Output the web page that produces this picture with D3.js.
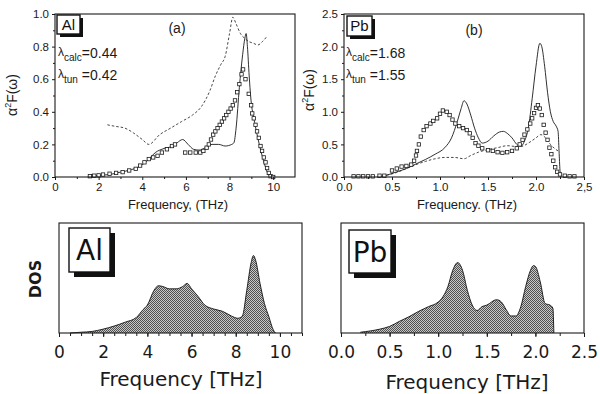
<!DOCTYPE html>
<html>
<head>
<meta charset="utf-8">
<script src="https://cdn.jsdelivr.net/npm/d3@7"></script>
<style>
  body { margin: 0; background: #fff; }
  svg { display: block; }
</style>
</head>
<body>
<svg id="chart" width="600" height="394"></svg>
<script>
// ---- panel (a): Al, alpha^2 F ----
const alCalcF = [1.5, 2, 2.5, 3, 3.5, 4, 4.3, 4.6, 5.0, 5.4,
  5.6, 5.85, 6.1, 6.35, 6.6, 6.9, 7.2, 7.5, 7.8, 8.1,
  8.2, 8.3, 8.45, 8.6, 8.7, 8.76, 8.82, 8.9, 9.0, 9.1,
  9.2, 9.4, 9.6, 9.8, 9.9];
const alCalcV = [0, 0.01, 0.015, 0.03, 0.045, 0.075, 0.11, 0.15, 0.175, 0.19,
  0.21, 0.23, 0.2, 0.17, 0.165, 0.18, 0.2, 0.2, 0.19, 0.2,
  0.21, 0.3, 0.55, 0.75, 0.85, 0.88, 0.8, 0.62, 0.45, 0.37,
  0.3, 0.18, 0.08, 0.01, 0];

const alTunF = [1.6, 1.8, 2.0, 2.2, 2.5, 2.8, 3.1, 3.4, 3.7, 3.9,
  4.1, 4.3, 4.5, 4.7, 4.9, 5.13, 5.36, 5.5, 5.97, 6.2,
  6.45, 6.66, 6.8, 6.95, 7.05, 7.15, 7.25, 7.35, 7.45, 7.55,
  7.65, 7.75, 7.85, 7.95, 8.05, 8.15, 8.25, 8.35, 8.45, 8.55,
  8.62, 8.73, 8.88, 8.99, 9.04, 9.11, 9.19, 9.26, 9.34, 9.42,
  9.49, 9.57, 9.65, 9.72, 9.8, 9.88, 10.0];
const alTunV = [0.005, 0.008, 0.01, 0.015, 0.02, 0.025, 0.03, 0.04, 0.05, 0.07,
  0.09, 0.11, 0.12, 0.13, 0.15, 0.17, 0.19, 0.2, 0.15, 0.15,
  0.15, 0.15, 0.16, 0.18, 0.2, 0.23, 0.26, 0.28, 0.3, 0.32,
  0.34, 0.36, 0.38, 0.4, 0.42, 0.44, 0.47, 0.52, 0.57, 0.63,
  0.66, 0.6, 0.51, 0.44, 0.39, 0.36, 0.32, 0.28, 0.24, 0.19,
  0.16, 0.12, 0.09, 0.055, 0.025, 0.005, 0];

const alDashF = [2.4, 2.8, 3.2, 3.6, 4.0, 4.3, 4.8, 5.3, 5.8, 6.3,
  6.7, 7.1, 7.35, 7.6, 7.8, 8.0, 8.15, 8.3, 8.5, 8.7,
  8.9, 9.1, 9.3, 9.5, 9.7];
const alDashV = [0.32, 0.31, 0.3, 0.27, 0.23, 0.2, 0.26, 0.3, 0.34, 0.38,
  0.43, 0.53, 0.62, 0.69, 0.74, 0.88, 0.98, 0.94, 0.88, 0.85,
  0.83, 0.82, 0.81, 0.83, 0.86];

// ---- panel (b): Pb, alpha^2 F ----
const pbCalcF = [0.35, 0.45, 0.55, 0.65, 0.75, 0.85, 0.95, 1.05, 1.12, 1.18,
  1.22, 1.25, 1.28, 1.32, 1.36, 1.4, 1.44, 1.5, 1.56, 1.62,
  1.66, 1.7, 1.75, 1.8, 1.84, 1.88, 1.92, 1.96, 2.0, 2.04,
  2.06, 2.09, 2.12, 2.15, 2.18, 2.21, 2.23, 2.24, 2.25, 2.26];
const pbCalcV = [0, 0.03, 0.08, 0.13, 0.2, 0.27, 0.35, 0.45, 0.6, 0.85,
  1.05, 1.17, 1.12, 0.95, 0.75, 0.6, 0.52, 0.55, 0.63, 0.69,
  0.7, 0.67, 0.6, 0.5, 0.47, 0.55, 0.75, 1.2, 1.7, 2.05,
  2.0, 1.7, 1.3, 1.0, 0.85, 0.78, 0.7, 0.4, 0.1, 0];

const pbTunF = [0.1, 0.15, 0.2, 0.25, 0.3, 0.37, 0.42, 0.5, 0.55, 0.6,
  0.65, 0.7, 0.73, 0.75, 0.76, 0.78, 0.8, 0.83, 0.86, 0.9,
  0.93, 0.97, 1.0, 1.03, 1.07, 1.1, 1.13, 1.16, 1.2, 1.24,
  1.28, 1.31, 1.34, 1.37, 1.4, 1.44, 1.5, 1.55, 1.6, 1.65,
  1.7, 1.75, 1.8, 1.83, 1.86, 1.88, 1.91, 1.94, 1.96, 1.98,
  2.0, 2.02, 2.04, 2.06, 2.08, 2.1, 2.12, 2.14, 2.16, 2.18,
  2.2, 2.22, 2.25, 2.3, 2.35, 2.4];
const pbTunV = [0.01, 0.01, 0.01, 0.01, 0.01, 0.02, 0.02, 0.1, 0.13, 0.16,
  0.17, 0.19, 0.25, 0.33, 0.4, 0.5, 0.62, 0.72, 0.78, 0.82,
  0.86, 0.9, 0.97, 1.02, 1.0, 0.95, 0.88, 0.82, 0.78, 0.75,
  0.72, 0.67, 0.6, 0.52, 0.48, 0.44, 0.41, 0.4, 0.38, 0.37,
  0.38, 0.4, 0.44, 0.5, 0.57, 0.65, 0.73, 0.82, 0.9, 0.98,
  1.06, 1.1, 1.05, 0.95, 0.8, 0.68, 0.57, 0.45, 0.35, 0.25,
  0.15, 0.08, 0.04, 0.02, 0.01, 0.01];

const pbDashF = [0.35, 0.45, 0.55, 0.65, 0.75, 0.85, 0.95, 1.05, 1.15, 1.25,
  1.32, 1.4, 1.5, 1.6, 1.7, 1.78, 1.85, 1.92, 2.0, 2.05,
  2.1, 2.15, 2.2, 2.23];
const pbDashV = [0, 0.03, 0.07, 0.13, 0.19, 0.24, 0.28, 0.3, 0.3, 0.28,
  0.33, 0.38, 0.42, 0.45, 0.48, 0.47, 0.47, 0.52, 0.6, 0.65,
  0.6, 0.5, 0.43, 0.4];

// ---- phonon DOS (arbitrary units) ----
const alDosF = [0.5, 1.0, 1.5, 2.0, 2.5, 3.0, 3.5, 3.8, 4.0, 4.3,
  4.5, 4.7, 5.0, 5.3, 5.6, 5.8, 6.0, 6.3, 6.6, 7.0,
  7.4, 7.8, 8.1, 8.3, 8.5, 8.7, 8.8, 8.9, 9.1, 9.3,
  9.5, 9.7, 9.8];
const alDosV = [0, 0.01, 0.02, 0.05, 0.09, 0.14, 0.2, 0.3, 0.36, 0.55,
  0.61, 0.6, 0.57, 0.57, 0.6, 0.64, 0.57, 0.47, 0.36, 0.31,
  0.28, 0.22, 0.19, 0.22, 0.55, 0.91, 1.0, 0.94, 0.64, 0.38,
  0.21, 0.04, 0];

const pbDosF = [0.2, 0.4, 0.5, 0.6, 0.7, 0.8, 0.9, 1.0, 1.05, 1.1,
  1.15, 1.2, 1.25, 1.3, 1.35, 1.4, 1.45, 1.5, 1.6, 1.65,
  1.7, 1.75, 1.8, 1.85, 1.9, 1.95, 1.98, 2.0, 2.05, 2.1,
  2.15, 2.18, 2.19];
const pbDosV = [0.01, 0.05, 0.085, 0.15, 0.21, 0.28, 0.34, 0.4, 0.47, 0.6,
  0.81, 0.91, 0.81, 0.55, 0.36, 0.29, 0.34, 0.36, 0.43, 0.4,
  0.3, 0.22, 0.22, 0.34, 0.6, 0.81, 0.87, 0.86, 0.66, 0.38,
  0.36, 0.32, 0];

// ---- tick labels ----
const alTopXTicks = [0, 2, 4, 6, 8, 10];
const alTopXLabels = ['0', '2', '4', '6', '8', '10'];
const alTopYTicks = [0, 0.2, 0.4, 0.6, 0.8, 1.0];
const alTopYLabels = ['0.0', '0.2', '0.4', '0.6', '0.8', '1.0'];
const pbTopXTicks = [0, 0.5, 1.0, 1.5, 2.0, 2.5];
const pbTopXLabels = ['0.0', '0.5', '1.0', '1.5', '2.0', '2,5'];
const pbTopYTicks = [0, 0.5, 1.0, 1.5, 2.0, 2.5];
const pbTopYLabels = ['0.0', '0.5', '1.0', '1.5', '2.0', '2.5'];
const alDosXLabels = ['0', '2', '4', '6', '8', '10'];
const pbDosXLabels = ['0.0', '0.5', '1.0', '1.5', '2.0', '2.5'];

const SANS = '"Liberation Sans", Arial, sans-serif';
const WIDE = '"DejaVu Sans", sans-serif';
const INK = '#1a1a1a';

const svg = d3.select('#chart');
const zip = (fs, vs) => fs.map((f, i) => [f, vs[i]]);

// halftone-looking fill for the DOS areas
const pat = svg.append('defs').append('pattern')
  .attr('id', 'dots').attr('width', 2).attr('height', 2)
  .attr('patternUnits', 'userSpaceOnUse');
pat.append('rect').attr('width', 2).attr('height', 2).attr('fill', '#c8c8c8');
pat.append('rect').attr('width', 1).attr('height', 1).attr('fill', '#505050');
pat.append('rect').attr('x', 1).attr('y', 1).attr('width', 1).attr('height', 1).attr('fill', '#505050');

function frame(x, y) {
  const [x0, x1] = x.range(), [y0, y1] = y.range();
  svg.append('rect')
    .attr('x', x0).attr('y', y1)
    .attr('width', x1 - x0).attr('height', y0 - y1)
    .attr('fill', 'none').attr('stroke', INK).attr('stroke-width', 1.1);
}

function styleAxis(g, font, family) {
  g.select('.domain').remove();
  g.selectAll('line').attr('stroke', INK);
  g.selectAll('text').attr('font-size', font).attr('font-family', family).attr('fill', INK);
}

function bottomAxis(x, y0, ticks, labels, minor, o) {
  if (minor) {
    svg.append('g').attr('transform', `translate(0,${y0})`)
      .call(d3.axisBottom(x).tickValues(minor).tickFormat('').tickSize(o.minorSize))
      .call(g => styleAxis(g, o.font, o.family));
  }
  svg.append('g').attr('transform', `translate(0,${y0})`)
    .call(d3.axisBottom(x).tickValues(ticks).tickFormat((d, i) => labels[i])
      .tickSize(o.size).tickPadding(o.pad))
    .call(g => styleAxis(g, o.font, o.family));
}

function leftAxis(y, x0, ticks, labels, minor) {
  svg.append('g').attr('transform', `translate(${x0},0)`)
    .call(d3.axisLeft(y).tickValues(minor).tickFormat('').tickSize(2))
    .call(g => styleAxis(g, 11.5, SANS));
  svg.append('g').attr('transform', `translate(${x0},0)`)
    .call(d3.axisLeft(y).tickValues(ticks).tickFormat((d, i) => labels[i])
      .tickSize(3).tickPadding(3))
    .call(g => styleAxis(g, 11.5, SANS));
}

function shadowBox(x0, y0, w, h, off, txt, font, family) {
  svg.append('rect').attr('x', x0 + off).attr('y', y0 + off)
    .attr('width', w).attr('height', h).attr('fill', '#111');
  svg.append('rect').attr('x', x0).attr('y', y0)
    .attr('width', w).attr('height', h)
    .attr('fill', '#fff').attr('stroke', '#111').attr('stroke-width', 1.4);
  svg.append('text').attr('x', x0 + w / 2).attr('y', y0 + h / 2)
    .attr('dy', '0.36em').attr('text-anchor', 'middle')
    .attr('font-family', family).attr('font-size', font).attr('fill', '#111')
    .text(txt);
}

function yLabel(x, y) {
  const t = svg.append('text')
    .attr('transform', `translate(${x},${y}) rotate(-90)`)
    .attr('text-anchor', 'middle')
    .attr('font-family', SANS).attr('font-size', 14).attr('fill', INK);
  t.append('tspan').text('α');
  t.append('tspan').attr('font-size', 9).attr('dy', -6).text('2');
  t.append('tspan').attr('dy', 6).text('F(ω)');
}

function lambdaLine(x, y, sub, val) {
  const t = svg.append('text').attr('x', x).attr('y', y)
    .attr('font-family', SANS).attr('font-size', 14).attr('fill', INK);
  t.append('tspan').attr('font-size', 12).attr('dy', -2).text('λ');
  t.append('tspan').attr('font-size', 10).attr('dy', 5).text(sub);
  t.append('tspan').attr('dy', -3).text(val);
}

function alphaPanel(x, y, calc, tun, dash) {
  const line = d3.line().x(d => x(d[0])).y(d => y(d[1])).curve(d3.curveMonotoneX);
  svg.append('path').datum(dash).attr('d', line)
    .attr('fill', 'none').attr('stroke', '#333').attr('stroke-width', 0.9)
    .attr('stroke-dasharray', '2.5,2');
  svg.append('path').datum(calc).attr('d', line)
    .attr('fill', 'none').attr('stroke', INK).attr('stroke-width', 0.9);
  svg.append('g').selectAll('rect').data(tun).join('rect')
    .attr('x', d => x(d[0]) - 1.7).attr('y', d => y(d[1]) - 1.7)
    .attr('width', 3.4).attr('height', 3.4)
    .attr('fill', '#fff').attr('stroke', INK).attr('stroke-width', 0.8);
}

function dosPanel(x, y, pts) {
  const area = d3.area().x(d => x(d[0])).y0(y(0)).y1(d => y(d[1])).curve(d3.curveMonotoneX);
  const line = d3.line().x(d => x(d[0])).y(d => y(d[1])).curve(d3.curveMonotoneX);
  svg.append('path').datum(pts).attr('d', area).attr('fill', 'url(#dots)');
  svg.append('path').datum(pts).attr('d', line)
    .attr('fill', 'none').attr('stroke', '#222').attr('stroke-width', 1);
}

// ---------- (a) Al ----------
{
  const x = d3.scaleLinear().domain([0, 11]).range([55, 295]);
  const y = d3.scaleLinear().domain([0, 1]).range([177, 14]);
  alphaPanel(x, y, zip(alCalcF, alCalcV), zip(alTunF, alTunV), zip(alDashF, alDashV));
  frame(x, y);
  bottomAxis(x, 177, alTopXTicks, alTopXLabels, d3.range(1, 11, 2),
    { size: 3, minorSize: 2, pad: 3, font: 11.5, family: SANS });
  leftAxis(y, 55, alTopYTicks, alTopYLabels, d3.range(0.1, 1, 0.2));
  yLabel(17, 95);
  svg.append('text').attr('x', 178).attr('y', 209).attr('text-anchor', 'middle')
    .attr('font-family', SANS).attr('font-size', 13).attr('fill', INK)
    .text('Frequency, (THz)');
  svg.append('text').attr('x', 177).attr('y', 33).attr('text-anchor', 'middle')
    .attr('font-family', SANS).attr('font-size', 14).attr('fill', INK).text('(a)');
  shadowBox(57, 15, 23, 19, 3, 'Al', 15, SANS);
  lambdaLine(58, 58, 'calc', '=0.44');
  lambdaLine(58, 80, 'tun', ' =0.42');
}

// ---------- (b) Pb ----------
{
  const x = d3.scaleLinear().domain([0, 2.5]).range([344, 584]);
  const y = d3.scaleLinear().domain([0, 2.5]).range([177, 14]);
  alphaPanel(x, y, zip(pbCalcF, pbCalcV), zip(pbTunF, pbTunV), zip(pbDashF, pbDashV));
  frame(x, y);
  bottomAxis(x, 177, pbTopXTicks, pbTopXLabels, d3.range(0.25, 2.5, 0.5),
    { size: 3, minorSize: 2, pad: 3, font: 11.5, family: SANS });
  leftAxis(y, 344, pbTopYTicks, pbTopYLabels, d3.range(0.25, 2.5, 0.5));
  yLabel(314, 90);
  svg.append('text').attr('x', 467).attr('y', 209).attr('text-anchor', 'middle')
    .attr('font-family', SANS).attr('font-size', 13).attr('fill', INK)
    .text('Frequency. (THz)');
  svg.append('text').attr('x', 474).attr('y', 35).attr('text-anchor', 'middle')
    .attr('font-family', SANS).attr('font-size', 14).attr('fill', INK).text('(b)');
  shadowBox(347, 16, 25, 20, 3, 'Pb', 15, SANS);
  lambdaLine(346, 58, 'calc', '=1.68');
  lambdaLine(346, 80, 'tun', ' =1.55');
}

// ---------- DOS Al ----------
{
  const x = d3.scaleLinear().domain([0, 11]).range([59, 302]);
  const y = d3.scaleLinear().domain([0, 1.42]).range([333, 223]);
  dosPanel(x, y, zip(alDosF, alDosV));
  frame(x, y);
  bottomAxis(x, 333, [0, 2, 4, 6, 8, 10], alDosXLabels, d3.range(0, 11.01, 0.5),
    { size: 4, minorSize: 3, pad: 9, font: 17, family: WIDE });
  svg.append('text').attr('transform', 'translate(41,279) rotate(-90)')
    .attr('text-anchor', 'middle').attr('font-family', WIDE)
    .attr('font-size', 16).attr('font-weight', 'bold').attr('fill', INK).text('DOS');
  svg.append('text').attr('x', 181).attr('y', 386).attr('text-anchor', 'middle')
    .attr('font-family', WIDE).attr('font-size', 20).attr('fill', INK)
    .text('Frequency [THz]');
  shadowBox(69, 228, 41, 44, 5, 'Al', 28, WIDE);
}

// ---------- DOS Pb ----------
{
  const x = d3.scaleLinear().domain([0, 2.5]).range([341, 584]);
  const y = d3.scaleLinear().domain([0, 1.42]).range([333, 223]);
  dosPanel(x, y, zip(pbDosF, pbDosV));
  frame(x, y);
  bottomAxis(x, 333, [0, 0.5, 1.0, 1.5, 2.0, 2.5], pbDosXLabels, d3.range(0, 2.51, 0.25),
    { size: 4, minorSize: 3, pad: 9, font: 17, family: WIDE });
  svg.append('text').attr('x', 467).attr('y', 389).attr('text-anchor', 'middle')
    .attr('font-family', WIDE).attr('font-size', 20).attr('fill', INK)
    .text('Frequency [THz]');
  shadowBox(349, 230, 42, 43, 5, 'Pb', 28, WIDE);
}
</script>
</body>
</html>
